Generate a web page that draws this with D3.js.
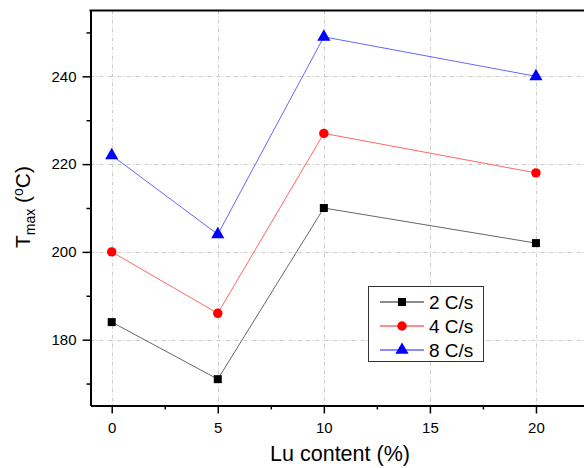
<!DOCTYPE html>
<html>
<head>
<meta charset="utf-8">
<script src="https://cdn.jsdelivr.net/npm/d3@7"></script>
<style>
  body { margin: 0; background: #fff; }
  svg { display: block; font-family: "Liberation Sans", Arial, sans-serif; }
</style>
</head>
<body>
<svg id="chart" width="584" height="468"></svg>
<script>
// chart values
var luContent = [0, 5, 10, 20];
var rate2 = [184, 171, 210, 202];
var rate4 = [200, 186, 227, 218];
var rate8 = [222, 204, 249, 240];
var seriesNames = ['2 C/s', '4 C/s', '8 C/s'];
var xTicks = [0, 5, 10, 15, 20];
var yTicks = [180, 200, 220, 240];

var series = [
    { name: seriesNames[0], values: rate2, color: '#000', line: '#666', shape: d3.symbolSquare, size: 64 },
    { name: seriesNames[1], values: rate4, color: '#f00', line: '#f66', shape: d3.symbolCircle, size: 70 },
    { name: seriesNames[2], values: rate8, color: '#00f', line: '#66f', shape: d3.symbolTriangle, size: 75 }
];

var svg = d3.select('#chart');
var plotLeft = 90.5, plotTop = 10.5, plotRight = 589, plotBottom = 405.5;

var x = d3.scaleLinear().domain([-1, 22.5]).range([plotLeft, plotRight]);
var y = d3.scaleLinear().domain([165, 255]).range([plotBottom, plotTop]);

// grid
var grid = svg.append('g').attr('stroke', '#ccc').attr('stroke-dasharray', '4,2,1,2');
grid.selectAll('.gx').data(xTicks).enter().append('line')
    .attr('x1', function(d) { return Math.round(x(d)) + 0.5; })
    .attr('x2', function(d) { return Math.round(x(d)) + 0.5; })
    .attr('y1', plotTop).attr('y2', plotBottom);
grid.selectAll('.gy').data(yTicks).enter().append('line')
    .attr('y1', function(d) { return Math.round(y(d)) + 0.5; })
    .attr('y2', function(d) { return Math.round(y(d)) + 0.5; })
    .attr('x1', plotLeft).attr('x2', plotRight);

// axes
function styleAxis(g) {
    g.select('.domain').attr('stroke', '#000').attr('stroke-width', 2);
    g.selectAll('.tick line').attr('stroke', '#000').attr('stroke-width', 1.5);
    g.selectAll('.tick text').attr('fill', '#000').style('font-size', '15px');
}

svg.append('g')
    .attr('transform', 'translate(0,' + plotBottom + ')')
    .call(d3.axisBottom(x).tickValues(d3.range(0, 22.5, 2.5)).tickSizeInner(8).tickSizeOuter(0)
        .tickPadding(9)
        .tickFormat(function(d) { return d % 5 === 0 ? d : ''; }))
    .call(styleAxis)
    .call(function(g) {
        g.selectAll('.tick').filter(function(d) { return d % 5 !== 0; })
            .select('line').attr('y2', 4);
    });

svg.append('g')
    .attr('transform', 'translate(' + plotLeft + ',0)')
    .call(d3.axisLeft(y).tickValues(d3.range(170, 255, 10)).tickSizeInner(8).tickSizeOuter(0)
        .tickPadding(6)
        .tickFormat(function(d) { return d % 20 === 0 ? d : ''; }))
    .call(styleAxis)
    .call(function(g) {
        g.selectAll('.tick').filter(function(d) { return d % 20 !== 0; })
            .select('line').attr('x2', -4);
    });

// top border
svg.append('line')
    .attr('x1', plotLeft - 1).attr('x2', plotRight)
    .attr('y1', plotTop).attr('y2', plotTop)
    .attr('stroke', '#000').attr('stroke-width', 2);

// lines and markers
var line = d3.line()
    .x(function(d, i) { return x(luContent[i]); })
    .y(function(d) { return y(d); });

series.forEach(function(s) {
    svg.append('path')
        .attr('d', line(s.values))
        .attr('fill', 'none')
        .attr('stroke', s.line)
        .attr('stroke-width', 1);
    svg.selectAll(null).data(s.values).enter().append('path')
        .attr('d', d3.symbol().type(s.shape).size(s.size))
        .attr('transform', function(d, i) { return 'translate(' + x(luContent[i]) + ',' + y(d) + ')'; })
        .attr('fill', s.color);
});

// legend
var legend = svg.append('g');
legend.append('rect')
    .attr('x', 368.5).attr('y', 286.5).attr('width', 115).attr('height', 75)
    .attr('fill', '#fff').attr('stroke', '#333').attr('stroke-width', 1);
var items = legend.selectAll('.item').data(series).enter().append('g')
    .attr('transform', function(d, i) { return 'translate(0,' + (302 + i * 24) + ')'; });
items.append('line')
    .attr('x1', 380).attr('x2', 424)
    .attr('stroke', function(d) { return d.line; })
    .attr('stroke-width', 1.5);
items.append('path')
    .attr('d', function(d) { return d3.symbol().type(d.shape).size(d.size)(); })
    .attr('transform', 'translate(402,0)')
    .attr('fill', function(d) { return d.color; });
items.append('text')
    .attr('x', 429).attr('y', 0).attr('dy', '0.35em')
    .style('font-size', '19px')
    .text(function(d) { return d.name; });

// axis titles
svg.append('text')
    .attr('x', 340).attr('y', 461)
    .attr('text-anchor', 'middle')
    .style('font-size', '21.5px')
    .text('Lu content (%)');

var yt = svg.append('text')
    .attr('transform', 'translate(30,207) rotate(-90)')
    .attr('text-anchor', 'middle')
    .style('font-size', '21px');
yt.append('tspan').text('T');
yt.append('tspan').attr('dy', 5).style('font-size', '14px').text('max');
yt.append('tspan').attr('dy', -5).text(' (');
yt.append('tspan').attr('dy', -7).style('font-size', '14px').text('o');
yt.append('tspan').attr('dy', 7).text('C)');
</script>
</body>
</html>
